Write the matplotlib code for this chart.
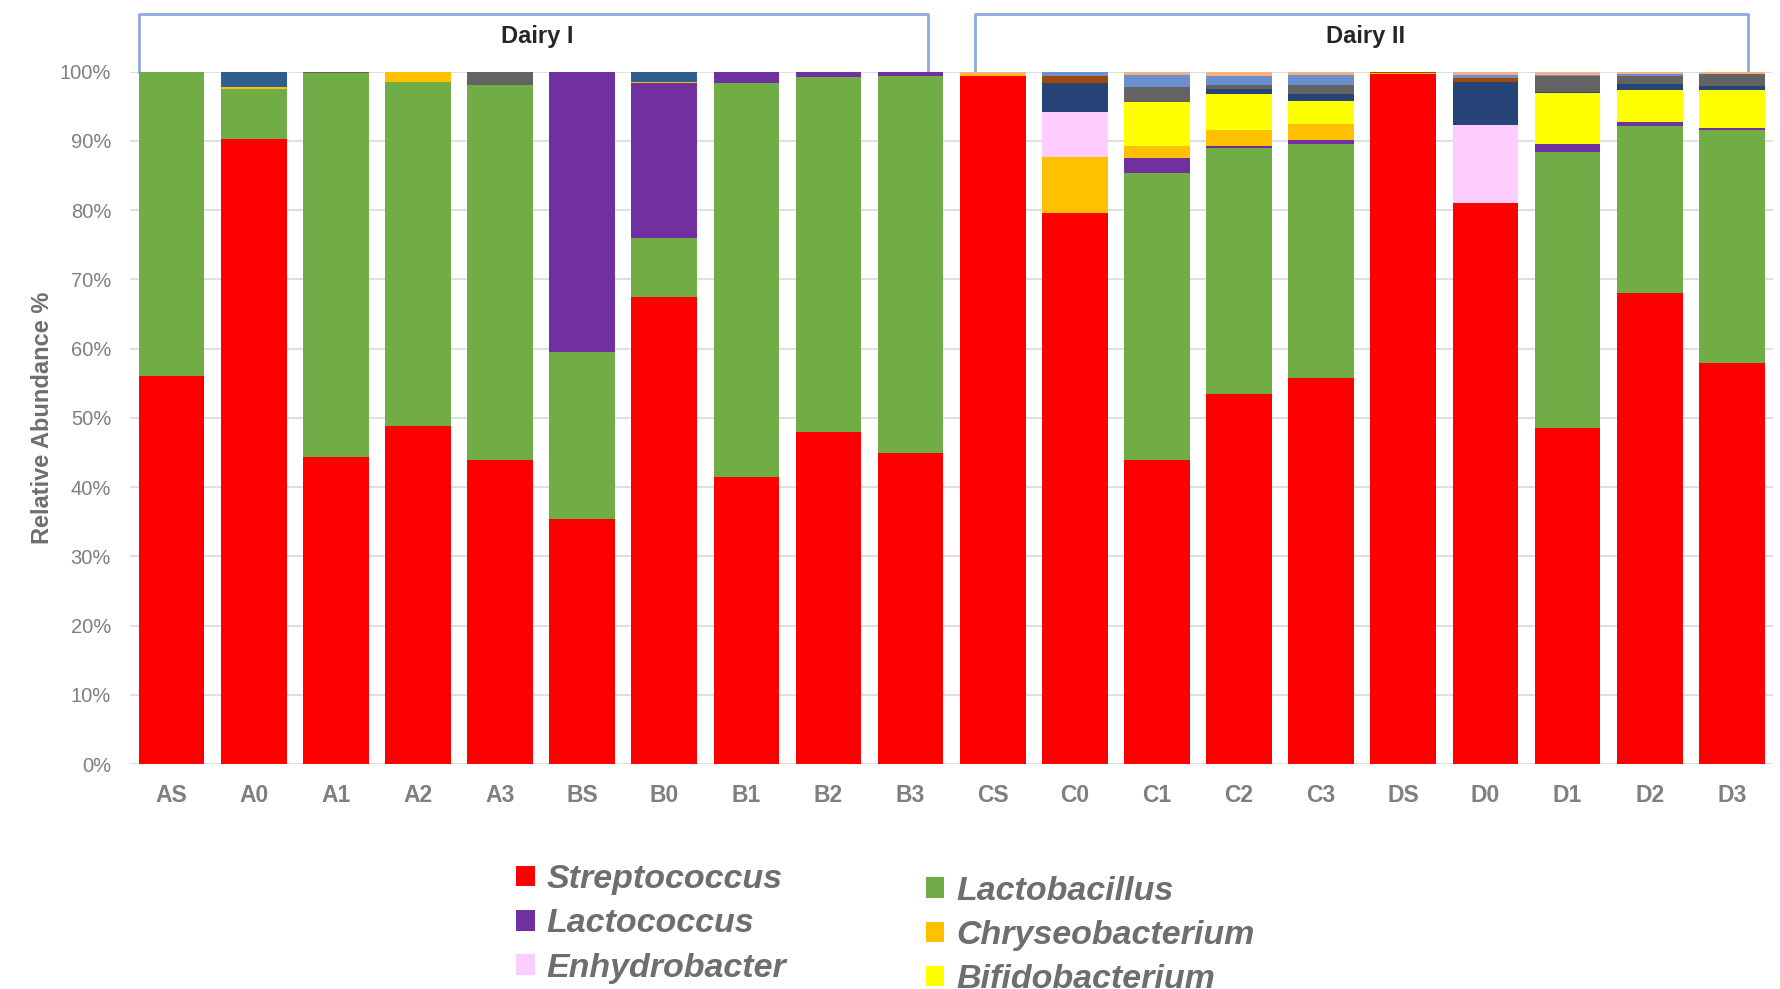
import matplotlib
matplotlib.use("Agg")
import matplotlib.pyplot as plt
import matplotlib.transforms as mtransforms
from matplotlib.patches import Patch
import numpy as np

plt.rcParams['font.family'] = ['Liberation Sans', 'DejaVu Sans']

categories = ["AS", "A0", "A1", "A2", "A3", "BS", "B0", "B1", "B2", "B3",
              "CS", "C0", "C1", "C2", "C3", "DS", "D0", "D1", "D2", "D3"]

streptococcus    = [56.1, 90.2, 44.3, 48.8, 43.9, 35.4, 67.4, 41.5, 47.9, 44.9,
                    99.3, 79.6, 43.9, 53.4, 55.7, 99.6, 81.0, 48.5, 68.0, 57.9]
lactobacillus    = [43.9, 7.3, 55.5, 49.7, 54.1, 24.1, 8.5, 56.8, 51.3, 54.4,
                    0.0, 0.0, 41.4, 35.6, 33.9, 0.0, 0.0, 39.9, 24.2, 33.6]
lactococcus      = [0.0, 0.0, 0.0, 0.0, 0.0, 40.5, 22.4, 1.7, 0.8, 0.7,
                    0.0, 0.0, 2.2, 0.2, 0.5, 0.0, 0.0, 1.2, 0.5, 0.4]
chryseobacterium = [0.0, 0.2, 0.0, 1.5, 0.0, 0.0, 0.2, 0.0, 0.0, 0.0,
                    0.3, 8.0, 1.7, 2.3, 2.3, 0.2, 0.0, 0.0, 0.0, 0.0]
enhydrobacter    = [0.0, 0.0, 0.0, 0.0, 0.0, 0.0, 0.0, 0.0, 0.0, 0.0,
                    0.0, 6.6, 0.0, 0.0, 0.0, 0.0, 11.3, 0.0, 0.0, 0.0]
bifidobacterium  = [0.0, 0.0, 0.0, 0.0, 0.0, 0.0, 0.0, 0.0, 0.0, 0.0,
                    0.0, 0.0, 6.4, 5.2, 3.3, 0.0, 0.0, 7.3, 4.6, 5.4]
other_navy       = [0.0, 0.0, 0.0, 0.0, 0.0, 0.0, 0.0, 0.0, 0.0, 0.0,
                    0.0, 4.2, 0.0, 0.8, 1.0, 0.0, 6.2, 0.2, 0.9, 0.6]
other_gray       = [0.0, 0.0, 0.2, 0.0, 2.0, 0.0, 0.0, 0.0, 0.0, 0.0,
                    0.0, 0.0, 2.1, 0.6, 1.4, 0.0, 0.0, 2.2, 1.1, 1.8]
other_brown      = [0.0, 0.0, 0.0, 0.0, 0.0, 0.0, 0.0, 0.0, 0.0, 0.0,
                    0.0, 0.9, 0.0, 0.0, 0.0, 0.2, 0.5, 0.0, 0.0, 0.0]
other_lightblue  = [0.0, 0.0, 0.0, 0.0, 0.0, 0.0, 0.0, 0.0, 0.0, 0.0,
                    0.0, 0.7, 1.8, 1.3, 1.4, 0.0, 0.5, 0.2, 0.3, 0.0]
other_peach      = [0.0, 0.0, 0.0, 0.0, 0.0, 0.0, 0.0, 0.0, 0.0, 0.0,
                    0.4, 0.0, 0.5, 0.6, 0.5, 0.0, 0.5, 0.5, 0.4, 0.3]
other_steelblue  = [0.0, 2.3, 0.0, 0.0, 0.0, 0.0, 1.5, 0.0, 0.0, 0.0,
                    0.0, 0.0, 0.0, 0.0, 0.0, 0.0, 0.0, 0.0, 0.0, 0.0]

series = [
    ("Streptococcus", streptococcus, "#FF0000"),
    ("Lactobacillus", lactobacillus, "#70AD47"),
    ("Lactococcus", lactococcus, "#7030A0"),
    ("Chryseobacterium", chryseobacterium, "#FFC000"),
    ("Enhydrobacter", enhydrobacter, "#FFCCFF"),
    ("Bifidobacterium", bifidobacterium, "#FFFF00"),
    ("other1", other_navy, "#264478"),
    ("other2", other_gray, "#636363"),
    ("other3", other_brown, "#9E480E"),
    ("other4", other_lightblue, "#6C8FCF"),
    ("other5", other_peach, "#F4B183"),
    ("other6", other_steelblue, "#2E5F8F"),
]

groups = [("Dairy I", -0.4, 9.21), ("Dairy II", 9.78, 19.2)]

fig = plt.figure(figsize=(17.8, 9.89), dpi=100)
ax = fig.add_axes([0.0733, 0.2273, 0.9227, 0.7004])

x = np.arange(len(categories))
bottom = np.zeros(len(categories))
for name, vals, col in series:
    v = np.array(vals)
    ax.bar(x, v, width=0.8, bottom=bottom, color=col, zorder=3, linewidth=0)
    bottom += v

ax.set_xlim(-0.5, len(categories) - 0.5)
ax.set_ylim(0, 100)
ax.set_yticks(np.arange(0, 101, 10))
ax.set_yticklabels([f"{t}%" for t in range(0, 101, 10)], fontsize=14.5, color="#7F7F7F")
ax.set_xticks(x)
ax.set_xticklabels(categories, fontsize=16.5, fontweight="bold", color="#7F7F7F")
ax.tick_params(axis="x", length=0, pad=14)
ax.tick_params(axis="y", length=0, pad=14)
ax.grid(axis="y", color="#D9D9D9", linewidth=1.2, zorder=0)
for s in ax.spines.values():
    s.set_visible(False)
ax.set_ylabel("Relative Abundance %", fontsize=17, fontweight="bold", color="#6E6E6E", labelpad=4)

trans = mtransforms.blended_transform_factory(ax.transData, ax.transAxes)
for label, x0, x1 in groups:
    ax.plot([x0, x0, x1, x1], [1.0, 1.083, 1.083, 1.0], transform=trans,
            color="#8EA9DB", linewidth=2, clip_on=False, solid_joinstyle="round")
    ax.text((x0 + x1) / 2 + 0.05, 1.050, label, transform=trans, ha="center", va="center",
            fontsize=17, fontweight="bold", color="#262626")

col1 = [Patch(facecolor=c) for n, v, c in series[:5:2]]
lab1 = [n for n, v, c in series[:5:2]]
col2 = [Patch(facecolor=c) for n, v, c in series[1:6:2]]
lab2 = [n for n, v, c in series[1:6:2]]

legkw = dict(frameon=False, prop={"size": 24.5, "style": "italic", "weight": "bold"},
             handlelength=0.55, handleheight=0.55, handletextpad=0.35, labelspacing=0.39,
             borderpad=0, borderaxespad=0, labelcolor="#6E6E6E", loc="upper left")
fig.legend(col1, lab1, bbox_to_anchor=(0.290, 0.1262), **legkw)
fig.legend(col2, lab2, bbox_to_anchor=(0.520, 0.1146), **legkw)

fig.savefig("out.png", dpi=100)
